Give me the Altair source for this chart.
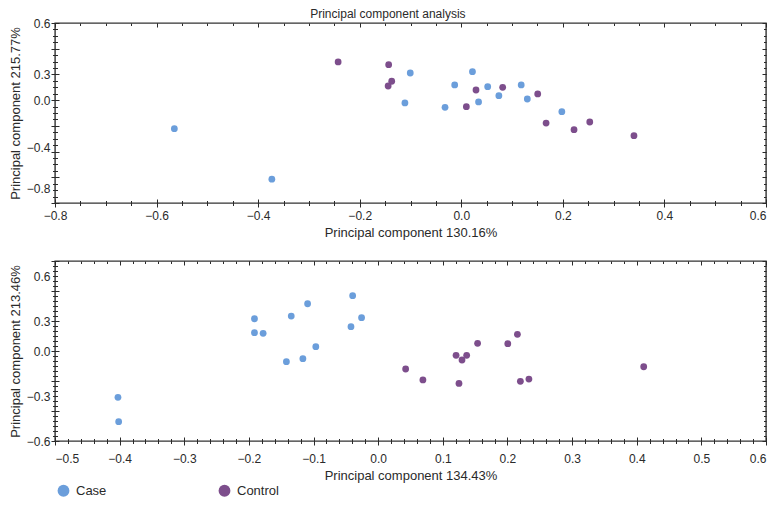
import altair as alt
import numpy as np
import pandas as pd

groups = ["Case", "Control"]
colors = ["#6b9edb", "#7d4e8c"]

# ---- Panel 1 (PC1 vs PC2, first analysis) ----
p1_case_x = [-0.565, -0.373, -0.1005, -0.111, -0.013, -0.032, 0.022, 0.034, 0.052, 0.074, 0.118, 0.130, 0.198]
p1_case_y = [-0.222, -0.615, 0.211, -0.022, 0.118, -0.056, 0.221, -0.014, 0.105, 0.035, 0.118, 0.009, -0.090]
p1_ctrl_x = [-0.2425, -0.143, -0.137, -0.144, 0.029, 0.010, 0.0815, 0.1505, 0.167, 0.222, 0.253, 0.340]
p1_ctrl_y = [0.297, 0.276, 0.147, 0.110, 0.079, -0.051, 0.100, 0.048, -0.178, -0.230, -0.170, -0.276]

p1_title_x = "Principal component 130.16%"
p1_title_y = "Principal component 215.77%"
p1_xdomain = [-0.8, 0.6]
p1_ydomain = [-0.8, 0.6]
p1_xlabels = [-0.8, -0.6, -0.4, -0.2, 0.0, 0.2, 0.4, 0.6]
p1_ylabel_pos = [0.6, 0.2, 0.0, -0.365, -0.69]
p1_ylabel_txt = ["0.6", "0.3", "0.0", "\u22120.4", "\u22120.8"]
p1_xmajor = [-0.8, -0.6, -0.4, -0.2, 0.0, 0.2, 0.4, 0.6]
p1_ymajor = [0.6, 0.4, 0.2, 0.0, -0.2, -0.4, -0.6, -0.8]
p1_xminor_step = 0.05
p1_yminor_step = 0.05

# ---- Panel 2 (PC1 vs PC2, second analysis) ----
p2_case_x = [-0.4026, -0.4015, -0.1914, -0.1914, -0.178, -0.1345, -0.1092, -0.142, -0.1165, -0.0965, -0.0395, -0.0421, -0.0257]
p2_case_y = [-0.309, -0.471, 0.215, 0.122, 0.118, 0.233, 0.315, -0.071, -0.051, 0.029, 0.369, 0.162, 0.222]
p2_ctrl_x = [0.0425, 0.0692, 0.1205, 0.1297, 0.1369, 0.125, 0.1538, 0.2005, 0.2154, 0.220, 0.2332, 0.4108]
p2_ctrl_y = [-0.120, -0.193, -0.029, -0.060, -0.029, -0.216, 0.051, 0.049, 0.111, -0.202, -0.187, -0.105]

p2_title_x = "Principal component 134.43%"
p2_title_y = "Principal component 213.46%"
p2_xdomain = [-0.5, 0.6]
p2_ydomain = [-0.6, 0.6]
p2_xlabels = [-0.5, -0.4, -0.3, -0.2, -0.1, 0.0, 0.1, 0.2, 0.3, 0.4, 0.5, 0.6]
p2_ylabel_pos = [0.5, 0.2, 0.0, -0.3, -0.6]
p2_ylabel_txt = ["0.6", "0.3", "0.0", "\u22120.3", "\u22120.6"]
p2_xmajor = p2_xlabels
p2_ymajor = [0.6, 0.4, 0.2, 0.0, -0.2, -0.4, -0.6]
p2_xminor_step = 0.02
p2_yminor_step = 0.2 / 6

main_title = "Principal component analysis"

FONT = "Liberation Sans"
INK = "#2a2a2a"


def frame(xs, ys):
    rows = [{"x": a, "y": b, "group": groups[0]} for a, b in zip(xs[0], ys[0])]
    rows += [{"x": a, "y": b, "group": groups[1]} for a, b in zip(xs[1], ys[1])]
    return pd.DataFrame(rows)


def steps(lo, hi, step):
    n = int(round((hi - lo) / step))
    return [round(lo + i * step, 4) for i in range(n + 1)]


def panel(df, xdom, ydom, xlabels, ylab_pos, ylab_txt, xmaj, ymaj, xstep, ystep,
          xtitle, ytitle, w, h, xpad):
    base = alt.Chart(df)
    xs = alt.Scale(domain=xdom, nice=False, zero=False)
    ys = alt.Scale(domain=ydom, nice=False, zero=False)
    pos_js = "[" + ",".join(repr(v) for v in ylab_pos) + "]"
    txt_js = "[" + ",".join("'" + t + "'" for t in ylab_txt) + "]"
    yexpr = f"indexof({pos_js}, datum.value) >= 0 ? {txt_js}[indexof({pos_js}, datum.value)] : ''"
    xexpr = "replace(format(datum.value, '.1f'), '-', '\u2212')"
    first, last = xlabels[0], xlabels[-1]
    align_expr = (f"datum.value == {last} ? 'right' : "
                  f"(datum.value == {first} && {first} == -0.5 ? 'left' : 'center')")
    pts = base.mark_circle(size=46, opacity=1).encode(
        x=alt.X("x:Q", scale=xs,
                axis=alt.Axis(orient="bottom", values=xlabels, ticks=False, domain=False,
                              grid=False, labelPadding=xpad, labelExpr=xexpr,
                              labelAlign=alt.expr(align_expr),
                              title=xtitle, titlePadding=5)),
        y=alt.Y("y:Q", scale=ys,
                axis=alt.Axis(orient="left", values=ylab_pos, ticks=False, domain=False,
                              grid=False, labelPadding=5, labelExpr=yexpr,
                              title=ytitle, titlePadding=4)),
        color=alt.Color("group:N", scale=alt.Scale(domain=groups, range=colors),
                        legend=alt.Legend(title=None, orient="none", direction="horizontal",
                                          legendX=2, legendY=461, columns=2,
                                          symbolType="circle", symbolSize=140,
                                          columnPadding=111, labelOffset=6,
                                          symbolStrokeWidth=0)),
    )
    xmin = steps(xdom[0], xdom[1], xstep)
    ymin = steps(ydom[0], ydom[1], ystep)

    def tick_layer(xv, yv, xo, yo, size, off):
        return base.mark_point(opacity=0).encode(
            x=alt.X("x:Q", scale=xs,
                    axis=alt.Axis(orient=xo, values=xv, labels=False, domain=False, grid=False,
                                  ticks=True, tickSize=size, offset=off, title=None,
                                  tickColor=INK, tickWidth=1)),
            y=alt.Y("y:Q", scale=ys,
                    axis=alt.Axis(orient=yo, values=yv, labels=False, domain=False, grid=False,
                                  ticks=True, tickSize=size, offset=off, title=None,
                                  tickColor=INK, tickWidth=1)),
        )

    layers = [
        pts,
        tick_layer(xmaj, ymaj, "bottom", "left", 8, -4),
        tick_layer(xmin, ymin, "bottom", "left", 5, -2.5),
        tick_layer(xmaj, ymaj, "top", "right", 4, -4),
        tick_layer(xmin, ymin, "top", "right", 2.5, -2.5),
    ]
    return alt.layer(*layers).resolve_axis(x="independent", y="independent").properties(
        width=w, height=h)


df1 = frame([p1_case_x, p1_ctrl_x], [p1_case_y, p1_ctrl_y])
df2 = frame([p2_case_x, p2_ctrl_x], [p2_case_y, p2_ctrl_y])

top = panel(df1, p1_xdomain, p1_ydomain, p1_xlabels, p1_ylabel_pos, p1_ylabel_txt,
            p1_xmajor, p1_ymajor, p1_xminor_step, p1_yminor_step,
            p1_title_x, p1_title_y, 711, 180, 7)
bottom = panel(df2, p2_xdomain, p2_ydomain, p2_xlabels, p2_ylabel_pos, p2_ylabel_txt,
               p2_xmajor, p2_ymajor, p2_xminor_step, p2_yminor_step,
               p2_title_x, p2_title_y, 711, 180, 12)

chart = alt.vconcat(top, bottom, spacing=58, bounds="flush").properties(
    title=alt.TitleParams(main_title, fontSize=12, fontWeight="normal", font=FONT,
                          color=INK, anchor="middle", offset=-5),
    padding={"left": 0, "top": 0, "right": 0, "bottom": 0},
).configure_view(
    stroke="#333333", strokeWidth=1.4
).configure_axis(
    labelFont=FONT, labelFontSize=12, labelColor=INK,
    titleFont=FONT, titleFontSize=13, titleFontWeight="normal", titleColor=INK,
).configure_legend(
    labelFont=FONT, labelFontSize=13, labelColor=INK,
)

chart.save("out.html", embed_options={"renderer": "svg", "actions": False})
